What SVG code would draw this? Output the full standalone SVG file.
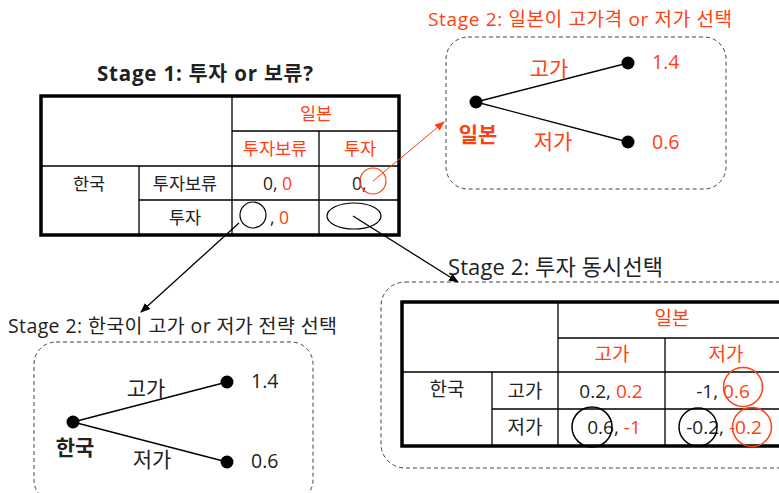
<svg xmlns="http://www.w3.org/2000/svg" width="779" height="493" viewBox="0 0 779 493">
<style>
text{font-family:"Open Sans","Noto Sans CJK KR","Malgun Gothic",sans-serif;fill:#222;dominant-baseline:central}
.r{fill:#FF4014}
.c{text-anchor:middle}
.b{font-weight:bold}
.t{font-size:17.5px}
.u{font-size:19.5px}
.n{font-size:21px}
.v{font-size:19px}
.thin{stroke:#000;stroke-width:1.3;fill:none}
.thick{stroke:#000;stroke-width:3.5;fill:none}
.dash{stroke:#444;stroke-width:1;stroke-dasharray:4 3;fill:none}
.edge{stroke:#000;stroke-width:1.3}
</style>
<defs>
<marker id="ab" markerWidth="10" markerHeight="10" refX="9" refY="5" orient="auto" markerUnits="userSpaceOnUse"><path d="M0,1 L10,5 L0,9 z" fill="#000"/></marker>
<marker id="ar" markerWidth="10" markerHeight="10" refX="9" refY="5" orient="auto" markerUnits="userSpaceOnUse"><path d="M0,1 L10,5 L0,9 z" fill="#FF4014"/></marker>
</defs>

<g id="stage1">
<text x="97" y="73" class="b" font-size="20.5" textLength="216">Stage 1: 투자 or 보류?</text>
<rect x="41" y="96" width="358" height="139" class="thick"/>
<path class="thin" d="M232,96V235 M139,166V235 M232,131H399 M41,166H399 M139,200H399 M319,131V235"/>
<text x="316" y="113" class="c r t">일본</text>
<text x="275" y="148" class="c r t">투자보류</text>
<text x="360" y="148" class="c r t">투자</text>
<text x="89" y="183" class="c t">한국</text>
<text x="185" y="183" class="c t">투자보류</text>
<text x="263" y="183" class="t">0, <tspan class="r">0</tspan></text>
<text x="352" y="183" class="t">0,</text>
<circle cx="373" cy="181" r="13" fill="none" stroke="#FF4014" stroke-width="1.2"/>
<text x="185" y="217" class="c t">투자</text>
<circle cx="253" cy="215" r="13" fill="none" stroke="#000" stroke-width="1.2"/>
<text x="270" y="217" class="t">, <tspan class="r">0</tspan></text>
<ellipse cx="354" cy="216" rx="27" ry="13" fill="none" stroke="#000" stroke-width="1.2"/>
</g>

<g id="stage2-japan">
<text x="428" y="19" class="r" font-size="19" textLength="304">Stage 2: 일본이 고가격 or 저가 선택</text>
<rect x="446" y="37" width="280" height="152" rx="22" class="dash"/>
<line x1="476" y1="102" x2="628" y2="63" class="edge"/>
<line x1="476" y1="102" x2="628" y2="142" class="edge"/>
<circle cx="476" cy="102" r="6.5" fill="#000"/>
<circle cx="628" cy="63" r="6.5" fill="#000"/>
<circle cx="628" cy="142" r="6.5" fill="#000"/>
<text x="652" y="61" class="r u">1.4</text>
<text x="652" y="141" class="r u">0.6</text>
<text x="549" y="68" class="c r n">고가</text>
<text x="553" y="141" class="c r n">저가</text>
<text x="478" y="134" class="c r b n">일본</text>
</g>

<g id="stage2-korea">
<text x="8" y="325" font-size="19.5" textLength="329">Stage 2: 한국이 고가 or 저가 전략 선택</text>
<rect x="34" y="342" width="279" height="160" rx="22" class="dash"/>
<line x1="73" y1="422" x2="227" y2="382" class="edge"/>
<line x1="73" y1="422" x2="227" y2="462" class="edge"/>
<circle cx="73" cy="422" r="6.5" fill="#000"/>
<circle cx="227" cy="382" r="6.5" fill="#000"/>
<circle cx="227" cy="462" r="6.5" fill="#000"/>
<text x="251" y="380" class="u">1.4</text>
<text x="251" y="460" class="u">0.6</text>
<text x="146" y="388" class="c n">고가</text>
<text x="152" y="459" class="c n">저가</text>
<text x="75" y="447" class="c b n">한국</text>
</g>

<g id="stage2-both">
<text x="448" y="266" font-size="22" textLength="215">Stage 2: 투자 동시선택</text>
<rect x="381" y="282" width="420" height="186" rx="24" class="dash"/>
<rect x="402" y="302" width="400" height="144" class="thick"/>
<path class="thin" d="M558,302V446 M558,338H779 M665,338V446 M402,372H779 M492,372V446 M492,409H779"/>
<text x="672" y="318" class="c r v">일본</text>
<text x="612" y="354" class="c r v">고가</text>
<text x="726" y="354" class="c r v">저가</text>
<text x="447" y="389" class="c v">한국</text>
<text x="525" y="391" class="c v">고가</text>
<text x="611" y="391" class="c v">0.2, <tspan class="r">0.2</tspan></text>
<text x="723" y="391" class="c v">-1, <tspan class="r">0.6</tspan></text>
<circle cx="743" cy="387" r="19.5" fill="none" stroke="#FF4014" stroke-width="1.5"/>
<text x="525" y="427" class="c v">저가</text>
<text x="614" y="427" class="c v">0.6, <tspan class="r">-1</tspan></text>
<circle cx="592" cy="427" r="20" fill="none" stroke="#000" stroke-width="1.5"/>
<text x="724" y="427" class="c v">-0.2, <tspan class="r">-0.2</tspan></text>
<circle cx="698" cy="427" r="19" fill="none" stroke="#000" stroke-width="1.5"/>
<circle cx="752" cy="427" r="19.5" fill="none" stroke="#FF4014" stroke-width="1.5"/>
</g>

<g id="connectors">
<line x1="239" y1="223" x2="141" y2="312" class="edge" stroke-width="1" marker-end="url(#ab)"/>
<line x1="373" y1="181" x2="444" y2="122" stroke="#FF4014" stroke-width="1" marker-end="url(#ar)"/>
<line x1="353" y1="216" x2="458" y2="282" class="edge" stroke-width="1" marker-end="url(#ab)"/>
</g>
</svg>
